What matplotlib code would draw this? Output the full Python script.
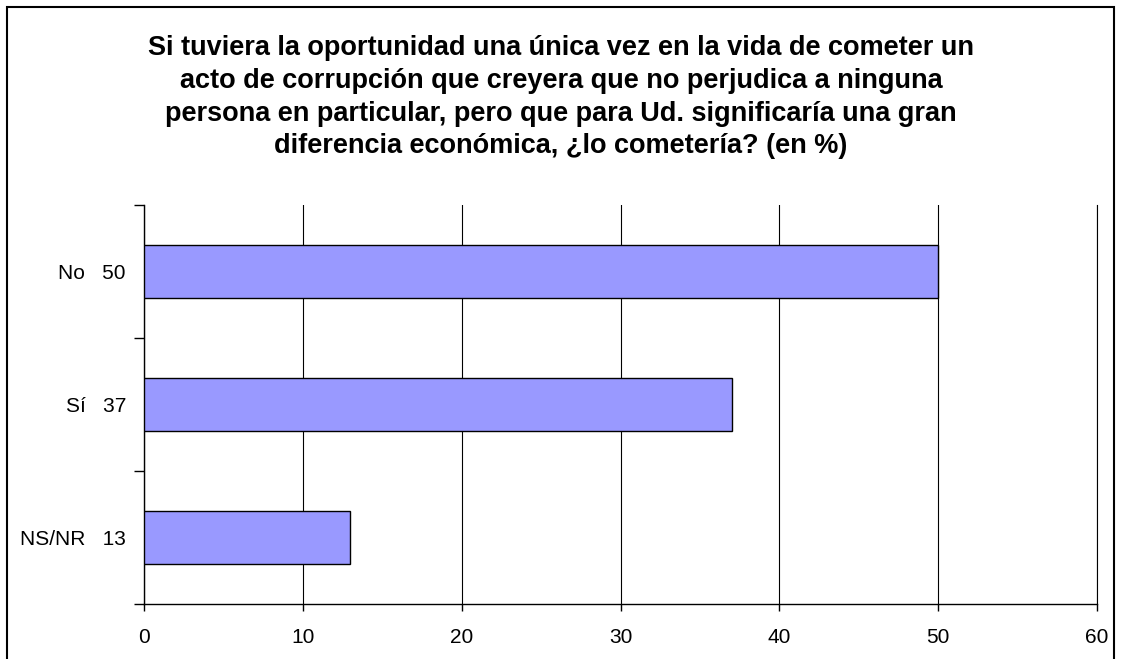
import matplotlib.pyplot as plt
from matplotlib.patches import Rectangle

categories = ['No', 'Sí', 'NS/NR']
values = [50, 37, 13]
xticks = [0, 10, 20, 30, 40, 50, 60]
title = ('Si tuviera la oportunidad una única vez en la vida de cometer un\n'
         'acto de corrupción que creyera que no perjudica a ninguna\n'
         'persona en particular, pero que para Ud. significaría una gran\n'
         'diferencia económica, ¿lo cometería? (en %)')

plt.rcParams['font.family'] = ['Liberation Sans', 'DejaVu Sans']

fig = plt.figure(figsize=(11.22, 6.59), dpi=100)
ax = fig.add_axes([144 / 1122, 1 - 604 / 659, 953 / 1122, 399 / 659])

pos = list(range(len(categories)))
ax.barh(pos, values, height=0.4, color='#9999FF', edgecolor='black', linewidth=1, zorder=3)
ax.set_ylim(len(categories) - 0.5, -0.5)
ax.set_xlim(xticks[0], xticks[-1])

ax.set_xticks(xticks)
ax.set_xticklabels([str(t) for t in xticks], fontsize=15)
ax.tick_params(axis='x', length=5, width=1, pad=12, direction='out')

ax.set_yticks([p - 0.5 for p in pos] + [len(categories) - 0.5])
ax.set_yticklabels([])
ax.set_yticks(pos, minor=True)
ax.set_yticklabels([f'{c}   {v}' for c, v in zip(categories, values)], minor=True, fontsize=15)
ax.tick_params(axis='y', which='major', length=7, width=1, direction='out')
ax.tick_params(axis='y', which='minor', length=0, pad=13)

ax.xaxis.grid(True, color='black', linewidth=0.8, zorder=0)
ax.axvline(xticks[-1], color='black', linewidth=0.8, clip_on=False, zorder=0)
ax.set_axisbelow(True)
for s in ['top', 'right']:
    ax.spines[s].set_visible(False)
for s in ['left', 'bottom']:
    ax.spines[s].set_linewidth(1)

fig.text(0.5, 1 - 35 / 659, title, ha='center', va='top', fontsize=19.5,
         fontweight='bold', linespacing=1.34)

fig.patches.append(Rectangle((7 / 1122, -0.05), 1107 / 1122, 1.05 - 7 / 659,
                             transform=fig.transFigure, fill=False,
                             edgecolor='black', linewidth=1.5))

fig.savefig('out.png', dpi=100)
